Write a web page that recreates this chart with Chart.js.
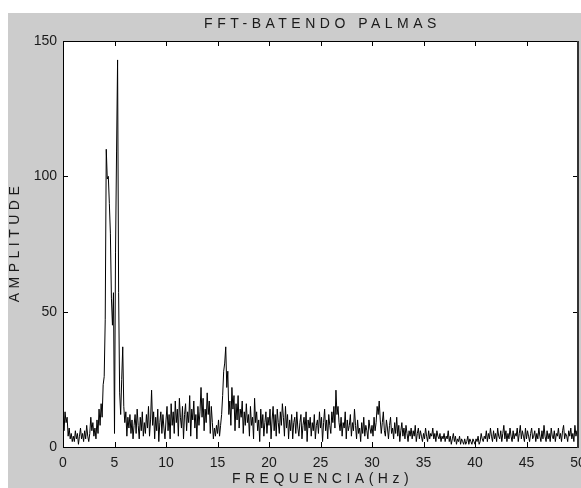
<!DOCTYPE html>
<html>
<head>
<meta charset="utf-8">
<title>FFT-BATENDO PALMAS</title>
<script src="https://cdn.jsdelivr.net/npm/chart.js@4.4.1/dist/chart.umd.min.js"></script>
<style>
  body { margin: 0; background: #ffffff; }
  #grafico { display: block; }
</style>
</head>
<body>
<canvas id="grafico" width="581" height="488"></canvas>
<script>

// dados //

var titulo = "FFT-BATENDO PALMAS";
var rotuloX = "FREQUENCIA(Hz)";
var rotuloY = "AMPLITUDE";

var passoHz = 0.1;          // resolucao da FFT (Hz por ponto)
var ticksX = [0, 5, 10, 15, 20, 25, 30, 35, 40, 45, 50];
var ticksY = [0, 50, 100, 150];

// amplitude, uma linha por Hz (x.0 ... x.9)
var amplitude = [
  20, 6, 13, 9, 11, 4, 7, 3, 5, 2,
  4, 2, 6, 3, 5, 1, 4, 7, 3, 5,
  2, 6, 3, 8, 4, 2, 5, 11, 6, 9,
  4, 7, 3, 10, 5, 14, 8, 16, 11, 23,
  26, 47, 110, 99, 100, 90, 79, 55, 45, 57,
  5, 72, 109, 143, 57, 20, 12, 25, 37, 15,
  9, 13, 4, 11, 7, 12, 5, 10, 3, 8,
  12, 5, 14, 8, 3, 11, 6, 13, 4, 9,
  5, 12, 7, 15, 4, 10, 21, 8, 13, 3,
  11, 6, 14, 2, 9, 13, 5, 12, 7, 3,
  10, 15, 6, 12, 3, 16, 8, 13, 5, 17,
  9, 14, 4, 18, 11, 7, 15, 3, 12, 16,
  6, 13, 9, 19, 4, 14, 10, 17, 7, 12,
  3, 15, 8, 13, 22, 11, 18, 6, 14, 9,
  20, 12, 17, 5, 15, 9, 3, 7, 4, 8,
  5, 10, 4, 8, 12, 19, 28, 31, 37, 22,
  28, 12, 17, 8, 22, 14, 19, 6, 16, 10,
  19, 7, 14, 11, 17, 5, 13, 8, 16, 9,
  12, 4, 15, 8, 11, 3, 18, 9, 13, 6,
  10, 2, 14, 7, 12, 4, 9, 13, 5, 11,
  8, 14, 3, 10, 15, 6, 12, 4, 14, 9,
  5, 13, 8, 16, 11, 4, 15, 7, 12, 3,
  10, 6, 12, 3, 9, 11, 5, 13, 7, 4,
  9, 12, 3, 8, 11, 6, 13, 2, 10, 7,
  11, 4, 9, 6, 12, 3, 8, 10, 5, 13,
  7, 11, 2, 9, 14, 6, 10, 3, 12, 8,
  5, 13, 9, 15, 7, 21, 12, 15, 9, 6,
  11, 4, 9, 7, 13, 3, 10, 6, 8, 12,
  4, 9, 6, 14, 8, 3, 10, 5, 7, 2,
  9, 5, 11, 4, 8, 6, 3, 10, 7, 5,
  8, 4, 11, 6, 9, 15, 12, 17, 10, 5,
  9, 13, 6, 4, 10, 7, 3, 8, 11, 5,
  7, 3, 9, 5, 11, 4, 8, 2, 6, 9,
  4, 7, 3, 8, 5, 2, 6, 4, 7, 3,
  6, 4, 8, 2, 5, 7, 3, 6, 4, 2,
  5, 3, 7, 4, 2, 6, 3, 5, 4, 7,
  3, 5, 2, 6, 4, 3, 5, 2, 4, 3,
  5, 2, 4, 3, 6, 2, 4, 1, 3, 5,
  2, 4, 1, 3, 2, 4, 1, 3, 2, 1,
  3, 1, 2, 4, 1, 3, 2, 1, 3, 2,
  1, 3, 2, 4, 1, 2, 5, 3, 2, 4,
  3, 6, 2, 5, 3, 7, 4, 2, 6, 3,
  5, 2, 7, 4, 3, 6, 2, 5, 8, 3,
  6, 2, 5, 3, 7, 4, 2, 6, 3, 5,
  4, 7, 2, 5, 8, 3, 6, 4, 2, 7,
  3, 6, 4, 2, 5, 7, 3, 4, 6, 2,
  5, 3, 7, 4, 2, 6, 3, 8, 4, 2,
  6, 3, 5, 2, 7, 4, 3, 6, 2, 5,
  4, 7, 3, 5, 2, 6, 8, 3, 5, 4,
  2, 6, 4, 7, 3, 5, 2, 8, 4, 6,
  3
];

var pontos = amplitude.map(function (a, i) {
  return { x: i * passoHz, y: a };
});

var fonte = "'Liberation Sans', Arial, sans-serif";
var corTexto = "#1a1a1a";

// fundo cinza estilo matlab + caixa branca do grafico
var fundoMatlab = {
  id: 'fundoMatlab',
  beforeDraw: function (chart) {
    var ctx = chart.ctx;
    var a = chart.chartArea;
    ctx.save();
    ctx.fillStyle = '#ffffff';
    ctx.fillRect(0, 0, chart.width, chart.height);
    ctx.fillStyle = '#cccccc';
    ctx.fillRect(8, 13, chart.width - 8, chart.height - 13);
    ctx.fillStyle = '#ffffff';
    ctx.fillRect(a.left, a.top, a.right - a.left, a.bottom - a.top);
    ctx.restore();
  },
  afterDraw: function (chart) {
    var ctx = chart.ctx;
    var a = chart.chartArea;
    var sx = chart.scales.x;
    var sy = chart.scales.y;
    ctx.save();
    ctx.strokeStyle = '#000000';
    ctx.lineWidth = 1;
    ctx.strokeRect(a.left + 0.5, a.top + 0.5, a.right - a.left - 1, a.bottom - a.top);
    // ticks para dentro nos 4 lados
    ctx.beginPath();
    ticksX.forEach(function (v) {
      var px = Math.round(sx.getPixelForValue(v)) + 0.5;
      ctx.moveTo(px, a.bottom); ctx.lineTo(px, a.bottom - 5);
      ctx.moveTo(px, a.top); ctx.lineTo(px, a.top + 5);
    });
    ticksY.forEach(function (v) {
      var py = Math.round(sy.getPixelForValue(v)) + 0.5;
      ctx.moveTo(a.left, py); ctx.lineTo(a.left + 5, py);
      ctx.moveTo(a.right, py); ctx.lineTo(a.right - 5, py);
    });
    ctx.stroke();
    ctx.fillStyle = '#333333';
    ctx.fillRect(a.right - 1, a.top, 2, a.bottom - a.top + 1);

    // titulo e rotulos com espacamento entre letras
    ctx.fillStyle = corTexto;
    ctx.font = "14px " + fonte;
    ctx.letterSpacing = '4.5px';
    ctx.textAlign = 'center';
    ctx.textBaseline = 'middle';
    var cx = (a.left + a.right) / 2;
    ctx.fillText(titulo, cx + 2, 24);
    ctx.fillText(rotuloX, cx + 2, 479);
    ctx.translate(15, (a.top + a.bottom) / 2);
    ctx.rotate(-Math.PI / 2);
    ctx.fillText(rotuloY, 2, 0);
    ctx.restore();
  }
};

var ctx = document.getElementById("grafico").getContext('2d');
var grafico = new Chart(ctx, {
  type: 'line',
  data: {
    datasets: [{
      label: titulo,
      data: pontos,
      borderColor: '#000000',
      borderWidth: 1,
      pointRadius: 0,
      tension: 0,
      fill: false
    }]
  },
  options: {
    responsive: false,
    animation: false,
    events: [],
    layout: { padding: { left: 0, top: 41, right: 3, bottom: 0 } },
    plugins: {
      legend: { display: false },
      title: { display: false },
      tooltip: { enabled: false }
    },
    scales: {
      x: {
        type: 'linear',
        min: 0,
        max: 50,
        afterBuildTicks: function (scale) {
          scale.ticks = ticksX.map(function (v) { return { value: v }; });
        },
        afterFit: function (scale) {
          scale.height = 41;
          scale.paddingLeft = 0;
          scale.paddingRight = 0;
        },
        grid: { display: false, drawTicks: false },
        border: { display: false },
        ticks: {
          autoSkip: false,
          maxRotation: 0,
          padding: 8,
          color: corTexto,
          font: { family: fonte, size: 14 }
        }
      },
      y: {
        type: 'linear',
        min: 0,
        max: 150,
        afterBuildTicks: function (scale) {
          scale.ticks = ticksY.map(function (v) { return { value: v }; });
        },
        afterFit: function (scale) {
          scale.width = 63;
          scale.paddingTop = 0;
          scale.paddingBottom = 0;
        },
        grid: { display: false, drawTicks: false },
        border: { display: false },
        ticks: {
          padding: 6,
          color: corTexto,
          font: { family: fonte, size: 14 }
        }
      }
    }
  },
  plugins: [fundoMatlab]
});

</script>
</body>
</html>
